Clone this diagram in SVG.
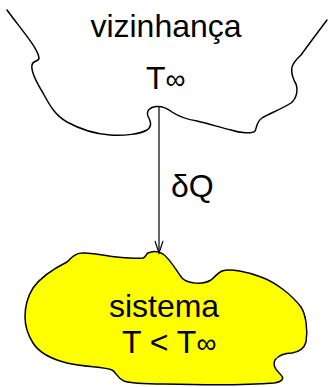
<svg xmlns="http://www.w3.org/2000/svg" width="328" height="387" viewBox="0 0 328 387">
<style>
.t{font-family:"Liberation Sans",Arial,sans-serif;font-size:32px;fill:#000}
.edge{fill:none;stroke:#000;stroke-width:1.5;stroke-linejoin:round;stroke-linecap:round}
.conn{fill:none;stroke:#000;stroke-width:1.2}
</style>
<rect width="328" height="387" fill="#fff"/>
<g id="vizinhanca">
<path class="edge" d="M7,10 C20,28 38,48 39,58 C39,62 33,60 32,65 C31,70 35,80 43,93 C50,106 55,115 67,122 C78,128 95,134 110,135 C125,136 140,134 147,130 C153,126 150,120 148,116 C146,111 150,107 156,106.5 C163,106 167,108 172,112 C178,116 185,119 197,121 C210,124 222,128 231,130 C240,133 252,134 255,131 C257,128 256,122 262,118 C268,114 282,109 291,103 C297,98 298,90 296,84 C293,79 291,73 292,67 C294,61 298,58 301,55 C306,48 312,40 327,20"/>
<text class="t" x="166" y="37" text-anchor="middle">vizinhança</text>
<text class="t" x="146" y="89">T<tspan font-size="28">∞</tspan></text>
</g>
<g id="sistema">
<path d="M148,253 C152,251 158,251 163,254 C170,259 176,270 182,278 C188,284 203,285 211,280 C215,277 217,273 222,271 C230,268 248,272 261,277 C275,282 291,294 301,307 C306,315 308,330 306,342 C304,349 298,352 292,353 C285,353 279,355 275,360 C272,366 277,371 281,375 C285,379 281,382 274,383 C250,385 200,385 164,384 C150,384 132,384 124,381 C117,378 116,372 112,370 C105,367 85,367 67,363 C55,360 40,354 33,343 C28,335 25,325 25,317 C25,305 28,296 33,288 C40,278 55,268 67,262 C72,257 76,253 82,253 C90,252 104,256 117,257 C128,258 138,259 143,258 C146,257 146,254 148,253 Z" fill="#ffff00" stroke="#000" stroke-width="1.5" stroke-linejoin="round"/>
<text class="t" x="164" y="317" text-anchor="middle">sistema</text>
<text class="t" x="122" y="353">T &lt; T<tspan font-size="28">∞</tspan></text>
</g>
<g id="connectors">
<line class="conn" x1="159" y1="107" x2="159" y2="253"/>
<polyline class="conn" points="155,241 159,253 163,241"/>
<text class="t" x="171" y="197">δQ</text>
</g>
</svg>
